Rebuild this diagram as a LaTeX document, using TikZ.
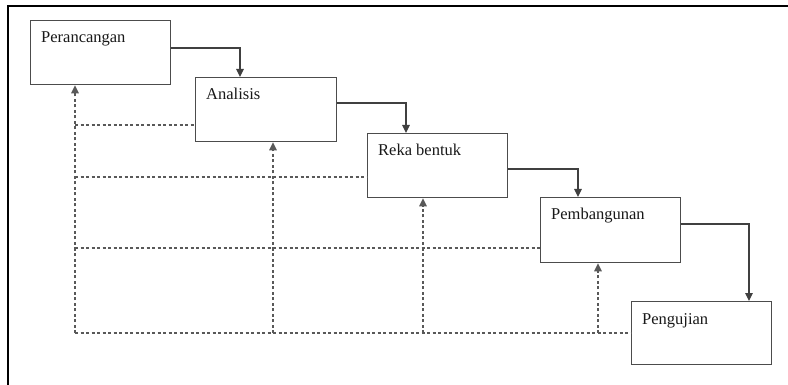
\documentclass[tikz,border=0pt]{standalone}
\usepackage{fontspec}
\setmainfont{Liberation Serif}
\usetikzlibrary{arrows.meta}
\begin{document}
\begin{tikzpicture}[x=1pt,y=1pt,
  box/.style={draw=black!70, line width=1.3pt, fill=white, minimum width=140pt, minimum height=64pt, anchor=north west, inner sep=0pt},
  lab/.style={label={[anchor=base west, xshift=11pt, yshift=-23pt, font=\fontsize{16.5}{18}\selectfont, text=black!90, inner sep=0pt]north west:#1}},
  arr/.style={draw=black!75, line width=1.2pt, -{Triangle[length=8pt,width=7.5pt]}},
  darr/.style={draw=black!65, line width=1.5pt, dash pattern=on 3pt off 2.5pt, -{Triangle[length=8pt,width=7.5pt]}},
  dline/.style={draw=black!65, line width=1.5pt, dash pattern=on 3pt off 2.5pt}]
\useasboundingbox (0,0) rectangle (788,-385);
\fill[white] (0,0) rectangle (788,-385);
\draw[line width=2pt, black] (8,-385) -- (8,-6) -- (788,-6);
% boxes
\node[box, lab=Perancangan] (p) at (30,-20) {};
\node[box, lab=Analisis, minimum width=141pt] (a) at (195,-77) {};
\node[box, lab=Reka bentuk] (r) at (367,-133) {};
\node[box, lab=Pembangunan, minimum height=65pt] (b) at (540,-197) {};
\node[box, lab=Pengujian, minimum height=63pt] (g) at (631,-301) {};
% solid flow arrows
\coordinate (t1) at (240,-48);
\coordinate (t2) at (406,-103);
\coordinate (t3) at (578,-169);
\coordinate (t4) at (749,-224);
\draw[arr] (t1 -| p.east) -- (t1) -- (t1 |- a.north);
\draw[arr] (t2 -| a.east) -- (t2) -- (t2 |- r.north);
\draw[arr] (t3 -| r.east) -- (t3) -- (t3 |- b.north);
\draw[arr] (t4 -| b.east) -- (t4) -- (t4 |- g.north);
% dashed feedback
\coordinate (c1) at (75,-333);
\coordinate (c2) at (273,-333);
\coordinate (c3) at (423,-333);
\coordinate (c4) at (598,-333);
\coordinate (h1) at (75,-125);
\coordinate (h2) at (75,-177);
\coordinate (h3) at (75,-248);
\draw[dline] (h1) -- (h1 -| a.west);
\draw[dline] (h2) -- (h2 -| r.west);
\draw[dline] (h3) -- (h3 -| b.west);
\draw[dline] (c1) -- (c1 -| g.west);
\draw[darr] (c1) -- (c1 |- p.south);
\draw[darr] (c2) -- (c2 |- a.south);
\draw[darr] (c3) -- (c3 |- r.south);
\draw[darr] (c4) -- (c4 |- b.south);
\end{tikzpicture}
\end{document}
